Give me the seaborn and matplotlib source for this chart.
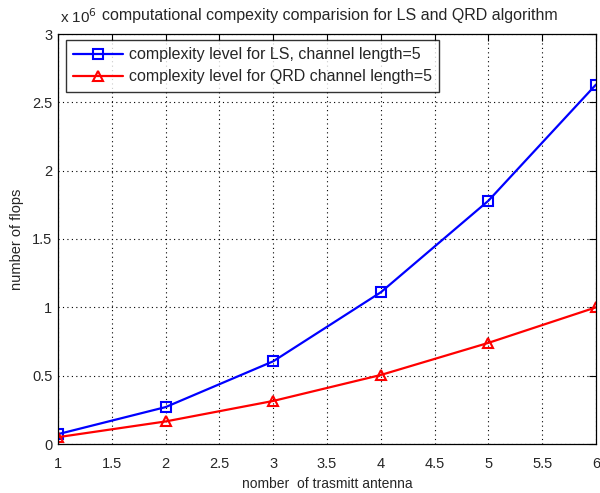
import matplotlib
matplotlib.use("Agg")
import matplotlib.pyplot as plt
import seaborn as sns
import pandas as pd

antennas = [1, 2, 3, 4, 5, 6]
ls_flops = [0.072, 0.27, 0.605, 1.11, 1.78, 2.63]   # x 10^6
qrd_flops = [0.05, 0.165, 0.315, 0.505, 0.74, 1.00]  # x 10^6
xticks = [1, 1.5, 2, 2.5, 3, 3.5, 4, 4.5, 5, 5.5, 6]
yticks = [0, 0.5, 1, 1.5, 2, 2.5, 3]
labels = ["complexity level for LS, channel length=5",
          "complexity level for QRD channel length=5"]

sns.set_style("white")
plt.rcParams['font.family'] = ['Liberation Sans', 'DejaVu Sans']

df = pd.DataFrame({
    "antennas": antennas * 2,
    "flops": ls_flops + qrd_flops,
    "series": [labels[0]] * 6 + [labels[1]] * 6,
})

fig = plt.figure(figsize=(6.0, 4.93), dpi=100)
ax = fig.add_axes([58 / 600, 49 / 493, 538 / 600, 410 / 493])

sns.lineplot(data=df, x="antennas", y="flops", hue="series", style="series",
             markers={labels[0]: "s", labels[1]: "^"}, dashes=False,
             palette={labels[0]: "#0000ff", labels[1]: "#ff0000"},
             linewidth=1.6, markersize=7, markerfacecolor="none",
             markeredgewidth=1.5, ax=ax)

for line in ax.get_lines():
    line.set_markeredgecolor(line.get_color())
    line.set_markerfacecolor("none")

ax.set_xlim(1, 6)
ax.set_ylim(0, 3)
ax.set_xticks(xticks)
ax.set_xticklabels([f"{t:g}" for t in xticks])
ax.set_yticks(yticks)
ax.set_yticklabels([f"{t:g}" for t in yticks])
ax.tick_params(direction="in", length=5, labelsize=10.5, top=True, right=True,
               color="black", width=0.8)
ax.tick_params(axis="x", pad=9)
ax.tick_params(axis="y", pad=4)
ax.grid(True, linestyle=(0, (1, 3)), color="black", linewidth=0.8)
for s in ax.spines.values():
    s.set_color("black")
    s.set_linewidth(0.9)

ax.set_xlabel("nomber  of trasmitt antenna", fontsize=10, labelpad=5)
ax.set_ylabel("number of flops", fontsize=10.5, labelpad=6)
ax.set_title("computational compexity comparision for LS and QRD algorithm",
             fontsize=11.5, pad=10, x=0.505)
ax.text(0.004, 1.02, r"x 10$^6$", transform=ax.transAxes, fontsize=11,
        ha="left", va="bottom")

leg = ax.legend(loc="upper left", fontsize=11.5, frameon=True, fancybox=False,
                edgecolor="black", handlelength=3.1, handletextpad=0.4,
                borderpad=0.45, labelspacing=0.45, borderaxespad=0,
                bbox_to_anchor=(8 / 538, 1 - 6 / 410))
leg.get_frame().set_linewidth(1.0)

fig.savefig("out.png", dpi=100)
